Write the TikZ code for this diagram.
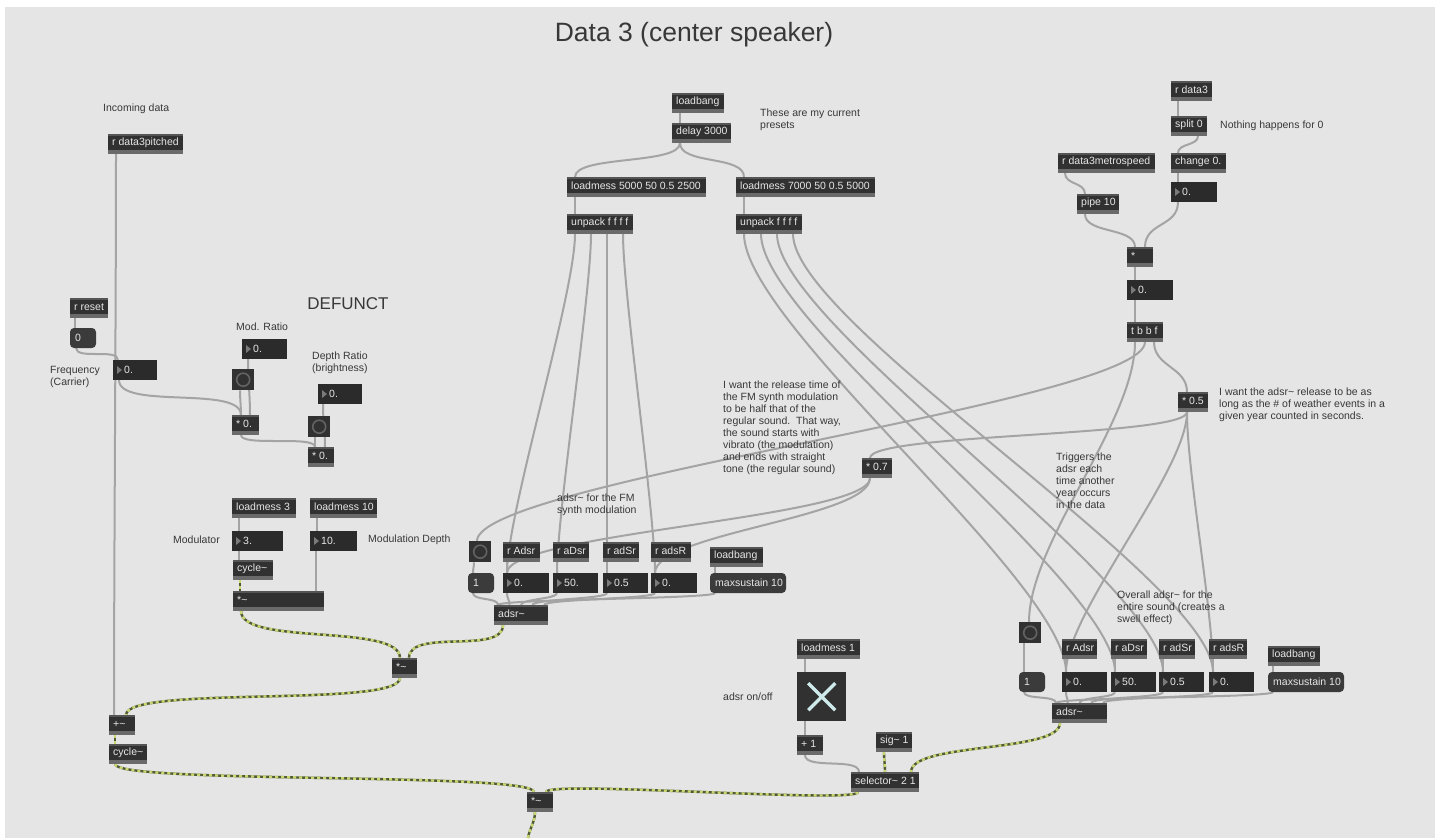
\documentclass[tikz,border=0pt]{standalone}
\usepackage{fontspec}
\setmainfont{Liberation Sans}
\usetikzlibrary{calc}
\pgfdeclarelayer{back}
\pgfdeclarelayer{wires}
\pgfsetlayers{back,wires,main}

\definecolor{canvas}{HTML}{E5E5E5}
\definecolor{objfill}{HTML}{313131}
\definecolor{objband}{HTML}{6A6A6A}
\definecolor{objtop}{HTML}{555555}
\definecolor{numfill}{HTML}{2B2B2B}
\definecolor{numtri}{HTML}{7A7A7A}
\definecolor{msgfill}{HTML}{3B3B3B}
\definecolor{objtext}{HTML}{E6E6E6}
\definecolor{cmttext}{HTML}{383838}
\definecolor{wiregrey}{HTML}{A4A4A4}
\definecolor{sigdark}{HTML}{4F5B35}
\definecolor{siglight}{HTML}{CAD672}
\definecolor{ringgrey}{HTML}{636363}
\definecolor{togx}{HTML}{CFEAEA}

\newcommand\sigtilde{\textasciitilde}
\newcommand\fsm{\fontsize{10.5}{12}\selectfont}

\tikzset{
  body/.style={anchor=north west, inner sep=0pt, outer sep=0pt, minimum height=20pt},
  obj/.style={body, fill=objfill, path picture={
      \fill[objband] (path picture bounding box.south west) rectangle ([yshift=4pt]path picture bounding box.south east);
      \fill[objtop] (path picture bounding box.north west) rectangle ([yshift=-2pt]path picture bounding box.north east);}},
  num/.style={body, fill=numfill, path picture={
      \fill[numtri] ([xshift=4pt,yshift=4pt]path picture bounding box.west) --
                    ([xshift=4pt,yshift=-4pt]path picture bounding box.west) --
                    ([xshift=9pt]path picture bounding box.west) -- cycle;}},
  msg/.style={body, fill=msgfill, rounded corners=4pt},
  bangbox/.style={anchor=north west, inner sep=0pt, minimum width=22pt, minimum height=21pt, fill=objfill,
      path picture={\draw[ringgrey, line width=1.6pt] (path picture bounding box.center) circle (6.5pt);}},
  togbox/.style={anchor=north west, inner sep=0pt, minimum width=49pt, minimum height=49pt, fill=objfill,
      path picture={
        \draw[togx, line width=3.4pt] ([shift={(11pt,11pt)}]path picture bounding box.south west) -- ([shift={(-11pt,-11pt)}]path picture bounding box.north east);
        \draw[togx, line width=3.4pt] ([shift={(11pt,-11pt)}]path picture bounding box.north west) -- ([shift={(-11pt,11pt)}]path picture bounding box.south east);}},
  lbl/.style={anchor=west, inner sep=0pt, text=objtext, font=\fsm},
  cmt/.style={inner sep=0pt, text=cmttext, font=\fsm, align=left},
  wire/.style={draw=wiregrey, line width=2pt},
  sig/.style={draw=sigdark, line width=2.4pt,
      postaction={draw=siglight, line width=2.4pt, dash pattern=on 3pt off 3pt}},
}

% boxes: [style]{name}{x}{y}{width}{text}
\newcommand\mobj[6][obj]{\node[#1, minimum width=#5pt] (#2) at (#3,-#4) {};
  \node[lbl] (#2-t) at ([xshift=4pt,yshift=1pt]#2.west) {#6};}
\newcommand\mnum[5]{\node[num, minimum width=#4pt] (#1) at (#2,-#3) {};
  \node[lbl] (#1-t) at ([xshift=11pt]#1.west) {#5};}
\newcommand\mmsg[5]{\node[msg, minimum width=#4pt] (#1) at (#2,-#3) {};
  \node[lbl] (#1-t) at ([xshift=5pt]#1.west) {#5};}
\newcommand\mbang[3]{\node[bangbox] (#1) at (#2,-#3) {};}
% patch cord: [style]{from}{outlet offset}{to}{inlet offset}{curvature}
\newcommand\cord[6][wire]{\draw[#1] ([xshift=#3pt]#2.south west) .. controls +(0,-#6) and +(0,#6) .. ([xshift=#5pt]#4.north west);}

\begin{document}
\begin{tikzpicture}[x=1pt,y=1pt]
\useasboundingbox (0,0) rectangle (1440,-838);
\begin{pgfonlayer}{back}
  \fill[white] (0,0) rectangle (1440,-838);
  \fill[canvas] (5,-7) rectangle (1435,-838);
\end{pgfonlayer}

% ---------- titles and comments ----------
\node[cmt, font=\fontsize{26.5}{30}\selectfont] (title) at (694,-35) {Data 3 (center speaker)};
\node[cmt, font=\fontsize{17}{20}\selectfont] (defunct) at (348,-304) {DEFUNCT};
\node[cmt, anchor=west] (c-inc) at (103,-109) {Incoming data};
\node[cmt, anchor=north west] (c-freq) at (50,-366) {Frequency\\(Carrier)};
\node[cmt, anchor=west] (c-mod) at (236,-327) {Mod. Ratio};
\node[cmt, anchor=north west] (c-depth) at (312,-352) {Depth Ratio\\(brightness)};
\node[cmt, anchor=east] (c-modu) at (220,-540) {Modulator};
\node[cmt, anchor=west] (c-mdepth) at (368,-540) {Modulation Depth};
\node[cmt, anchor=north west] (c-presets) at (760,-109) {These are my current\\presets};
\node[cmt, anchor=west] (c-nothing) at (1220,-126) {Nothing happens for 0};
\node[cmt, anchor=north west] (c-release) at (723,-381) {I want the release time of\\the FM synth modulation\\to be half that of the\\regular sound.\ \ That way,\\the sound starts with\\vibrato (the modulation)\\and ends with straight\\tone (the regular sound)};
\node[cmt, anchor=north west] (c-fm) at (557,-494) {adsr\sigtilde{} for the FM\\synth modulation};
\node[cmt, anchor=north west] (c-adsrrel) at (1219,-388) {I want the adsr\sigtilde{} release to be as\\long as the \# of weather events in a\\given year counted in seconds.};
\node[cmt, anchor=north west] (c-trig) at (1056,-453) {Triggers the\\adsr each\\time another\\year occurs\\in the data};
\node[cmt, anchor=north west] (c-overall) at (1117,-591) {Overall adsr\sigtilde{} for the\\entire sound (creates a\\swell effect)};
\node[cmt, anchor=west] (c-onoff) at (723,-697) {adsr on/off};

% ---------- carrier / modulator section ----------
\mobj{rpitched}{108}{134}{75}{r data3pitched}
\mobj{rreset}{70}{298}{38}{r reset}
\mmsg{m0}{70}{328}{26}{0}
\mnum{nfreq}{113}{360}{44}{0.}
\mnum{nmod}{242}{339}{45}{0.}
\mbang{bang1}{232}{369}
\mobj{mulA}{232}{415}{27}{* 0.}
\mnum{ndepth}{318}{384}{44}{0.}
\mbang{bang2}{308}{416}
\mobj{mulB}{308}{447}{26}{* 0.}
\mobj{lm3}{232}{498}{64}{loadmess 3}
\mobj{lm10}{310}{498}{67}{loadmess 10}
\mnum{n3}{232}{531}{51}{3.}
\mnum{n10}{310}{531}{47}{10.}
\mobj{cyc1}{233}{560}{40}{cycle\sigtilde}
\mobj{mulw}{233}{591}{91}{*\sigtilde}
\mobj{mulm}{392}{658}{25}{*\sigtilde}
\mobj{plus}{109}{715}{26}{+\sigtilde}
\mobj{cyc2}{109}{744}{38}{cycle\sigtilde}
\mobj{mulb}{527}{792}{26}{*\sigtilde}
\coordinate (out) at (528,-838);

% ---------- presets ----------
\mobj{lb0}{672}{93}{52}{loadbang}
\mobj{delay}{672}{123}{59}{delay 3000}
\mobj{lm5}{567}{177}{139}{loadmess 5000 50 0.5 2500}
\mobj{lm7}{736}{177}{139}{loadmess 7000 50 0.5 5000}
\mobj{up1}{567}{214}{66}{unpack f f f f}
\mobj{up2}{736}{214}{66}{unpack f f f f}

% ---------- FM envelope ----------
\mbang{bang4}{469}{541}
\mobj{rA1}{503}{542}{37}{r Adsr}
\mobj{rD1}{553}{542}{36}{r aDsr}
\mobj{rS1}{603}{542}{36}{r adSr}
\mobj{rR1}{651}{542}{40}{r adsR}
\mobj{lb1}{710}{547}{53}{loadbang}
\mmsg{m1}{468}{573}{26}{1}
\mnum{nA1}{503}{573}{46}{0.}
\mnum{nD1}{553}{573}{45}{50.}
\mnum{nS1}{603}{573}{45}{0.5}
\mnum{nR1}{651}{573}{46}{0.}
\mmsg{ms1}{710}{573}{76}{maxsustain 10}
\mobj{adsr1}{494}{605}{54}{adsr\sigtilde}

% ---------- overall envelope ----------
\mbang{bang3}{1019}{622}
\mobj{rA2}{1062}{639}{35}{r Adsr}
\mobj{rD2}{1111}{639}{36}{r aDsr}
\mobj{rS2}{1159}{639}{36}{r adSr}
\mobj{rR2}{1209}{639}{38}{r adsR}
\mobj{lb2}{1268}{646}{52}{loadbang}
\mmsg{m2}{1019}{672}{26}{1}
\mnum{nA2}{1062}{672}{45}{0.}
\mnum{nD2}{1111}{672}{45}{50.}
\mnum{nS2}{1159}{672}{45}{0.5}
\mnum{nR2}{1209}{672}{45}{0.}
\mmsg{ms2}{1268}{672}{76}{maxsustain 10}
\mobj{adsr2}{1052}{703}{55}{adsr\sigtilde}

% ---------- yearly trigger ----------
\mobj{rdata3}{1171}{81}{41}{r data3}
\mobj{split}{1171}{116}{36}{split 0}
\mobj{change}{1171}{153}{55}{change 0.}
\mnum{nchg}{1171}{182}{46}{0.}
\mobj{rmetro}{1058}{153}{97}{r data3metrospeed}
\mobj{pipe}{1077}{194}{42}{pipe 10}
\mobj{mul}{1127}{247}{26}{*}
\mnum{nmul}{1127}{280}{46}{0.}
\mobj{tbbf}{1127}{322}{36}{t b b f}
\mobj{mul05}{1178}{392}{30}{* 0.5}
\mobj{mul07}{862}{458}{30}{* 0.7}

% ---------- envelope switch ----------
\mobj{lm1}{797}{639}{63}{loadmess 1}
\node[togbox] (tog) at (797,-672) {};
\mobj{plus1}{797}{735}{26}{+ 1}
\mobj{sig1}{876}{732}{36}{sig\sigtilde{} 1}
\mobj{sel}{851}{772}{68}{selector\sigtilde{} 2 1}

% ---------- patch cords ----------
\begin{pgfonlayer}{wires}
\cord{rpitched}{8}{plus}{5}{150}
\cord{rreset}{5}{m0}{5}{4}
\cord{m0}{6}{nfreq}{5}{12}
\cord{nfreq}{6}{mulA}{9}{30}
\cord{nmod}{6}{mulA}{18}{20}
\cord{bang1}{8}{mulA}{9}{8}
\cord{mulA}{9}{mulB}{7}{12}
\cord{ndepth}{5}{mulB}{17}{20}
\cord{bang2}{7}{mulB}{7}{5}
\cord{lm3}{7}{n3}{7}{5}
\cord{lm10}{7}{n10}{7}{5}
\cord{n3}{7}{cyc1}{6}{5}
\cord{n10}{6}{mulw}{83}{10}
\cord[sig]{cyc1}{7}{mulw}{7}{5}
\cord[sig]{mulw}{8}{mulm}{8}{35}
\cord[sig]{adsr1}{9}{mulm}{17}{30}
\cord[sig]{mulm}{8}{plus}{17}{30}
\cord[sig]{plus}{6}{cyc2}{6}{4}
\cord[sig]{cyc2}{6}{mulb}{7}{20}
\cord[sig]{sel}{7}{mulb}{19}{12}
\cord[sig]{sig1}{8}{sel}{34}{8}
\cord[sig]{adsr2}{8}{sel}{60}{30}
\draw[sig] ([xshift=8pt]mulb.south west) .. controls +(0,-10) and +(1,8) .. (out);

\cord{lb0}{8}{delay}{8}{4}
\cord{delay}{8}{lm5}{8}{22}
\cord{delay}{8}{lm7}{8}{22}
\cord{lm5}{8}{up1}{8}{5}
\cord{lm7}{8}{up2}{8}{5}
\cord{up1}{8}{nA1}{4}{60}
\cord{up1}{24}{nD1}{4}{60}
\cord{up1}{40}{nS1}{4}{60}
\cord{up1}{56}{nR1}{4}{60}
\cord{up2}{8}{nA2}{4}{90}
\cord{up2}{25}{nD2}{4}{90}
\cord{up2}{41}{nS2}{4}{90}
\cord{up2}{57}{nR2}{4}{90}

\cord{rA1}{4}{nA1}{4}{4}
\cord{rD1}{4}{nD1}{4}{4}
\cord{rS1}{4}{nS1}{4}{4}
\cord{rR1}{4}{nR1}{4}{4}
\cord{bang4}{5}{m1}{5}{4}
\cord{lb1}{5}{ms1}{5}{3}
\cord{m1}{5}{adsr1}{4}{8}
\cord{nA1}{4}{adsr1}{15.5}{6}
\cord{nD1}{4}{adsr1}{27}{6}
\cord{nS1}{4}{adsr1}{38.5}{6}
\cord{nR1}{4}{adsr1}{50}{6}
\cord{ms1}{5}{adsr1}{4}{6}

\cord{rA2}{4}{nA2}{4}{4}
\cord{rD2}{4}{nD2}{4}{4}
\cord{rS2}{4}{nS2}{4}{4}
\cord{rR2}{4}{nR2}{4}{4}
\cord{bang3}{5}{m2}{5}{4}
\cord{lb2}{5}{ms2}{5}{3}
\cord{m2}{5}{adsr2}{4}{8}
\cord{nA2}{4}{adsr2}{15.75}{6}
\cord{nD2}{4}{adsr2}{27.5}{6}
\cord{nS2}{4}{adsr2}{39.25}{6}
\cord{nR2}{4}{adsr2}{51}{6}
\cord{ms2}{5}{adsr2}{4}{6}

\cord{rdata3}{7}{split}{7}{4}
\cord{split}{27}{change}{7}{10}
\cord{change}{7}{nchg}{7}{4}
\cord{nchg}{7}{mul}{18}{25}
\cord{rmetro}{7}{pipe}{8}{12}
\cord{pipe}{8}{mul}{8}{20}
\cord{mul}{8}{nmul}{8}{4}
\cord{nmul}{8}{tbbf}{8}{4}
\cord{tbbf}{8}{bang3}{10}{80}
\cord{tbbf}{18}{bang4}{8}{60}
\cord{tbbf}{27}{mul05}{9}{25}
\cord{mul05}{9}{mul07}{8}{25}
\cord{mul05}{9}{nA2}{4}{60}
\cord{mul05}{9}{nR2}{4}{60}
\cord{mul07}{8}{nA1}{4}{40}
\cord{mul07}{8}{nR1}{4}{40}

\cord{lm1}{8}{tog}{8}{4}
\cord{tog}{8}{plus1}{8}{4}
\cord{plus1}{8}{sel}{8}{15}
\end{pgfonlayer}
\end{tikzpicture}
\end{document}
